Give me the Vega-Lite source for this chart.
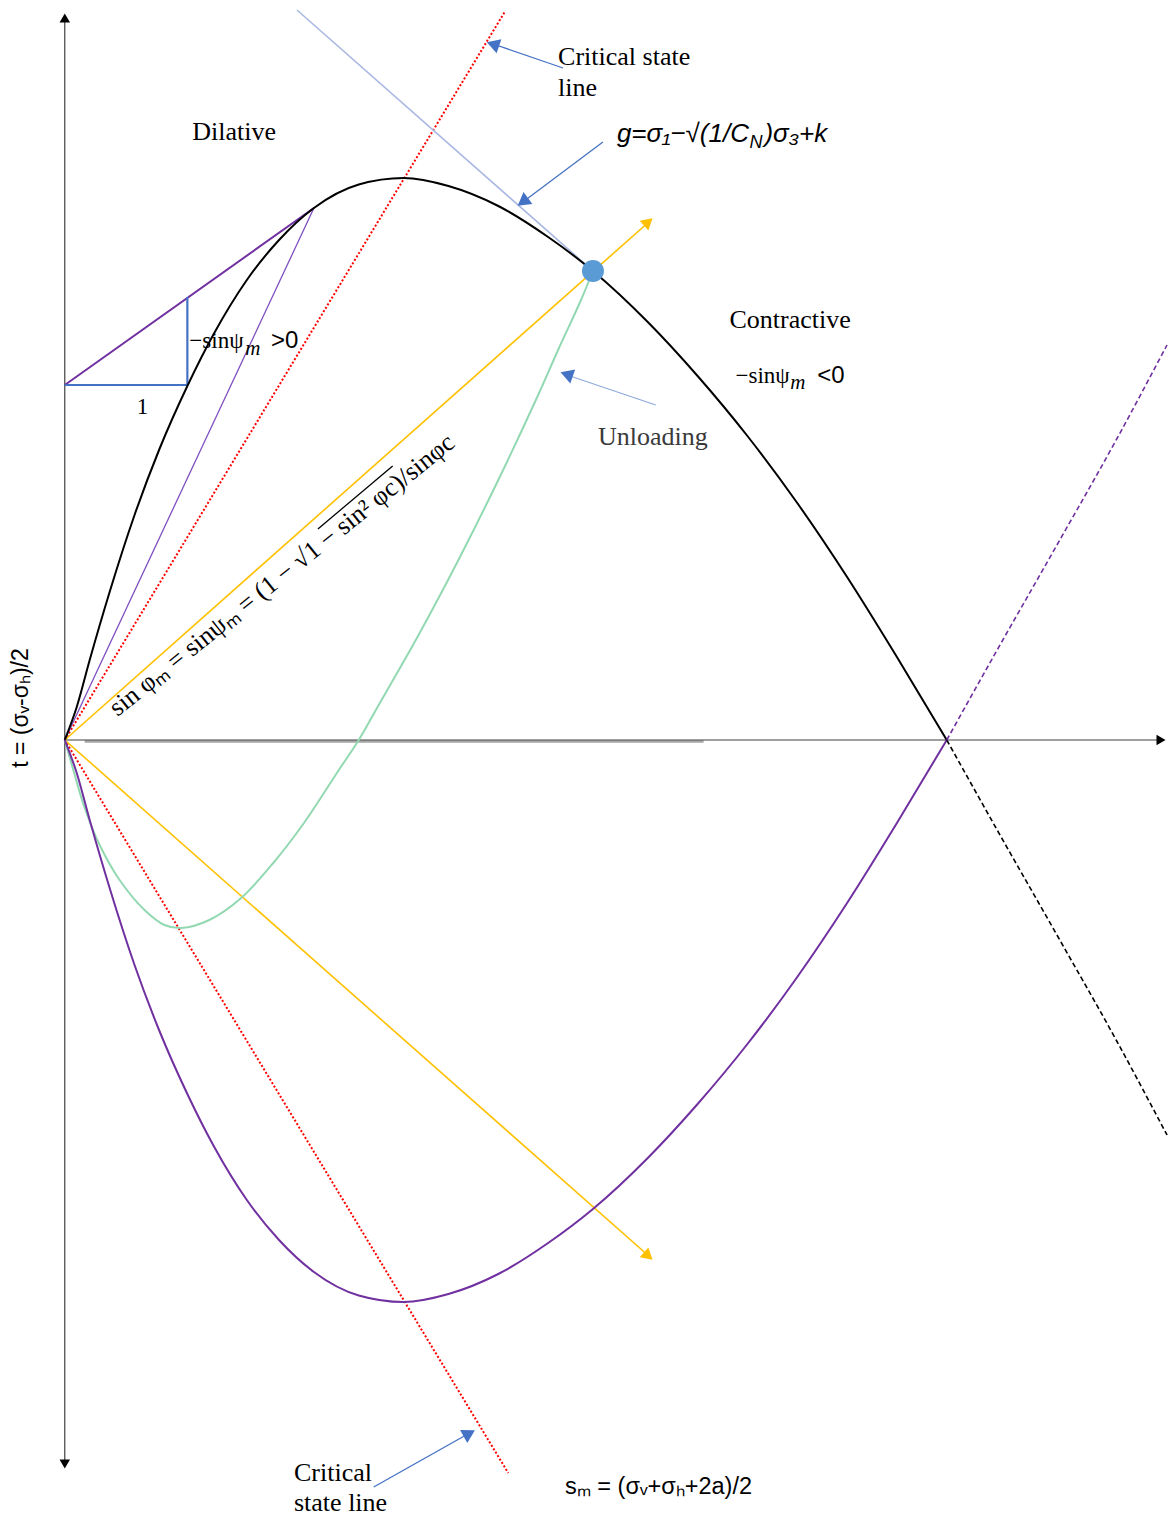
{
  "$schema": "https://vega.github.io/schema/vega-lite/v6.json",
  "width": 1171,
  "height": 1517,
  "autosize": {"type": "fit", "contains": "padding"},
  "padding": 0,
  "background": "white",
  "config": {"view": {"stroke": null}},
  "datasets": {
    "segs": [
      {"k": "vaxis", "x": 0, "y": 722, "x2": 0, "y2": -724},
      {"k": "haxis", "x": 0, "y": 0, "x2": 1100, "y2": 0},
      {"k": "gray", "x": 20, "y": -1.5, "x2": 641, "y2": -1.5},
      {"k": "red", "x": 0, "y": 0, "x2": 442, "y2": 729},
      {"k": "red", "x": 0, "y": 0, "x2": 445, "y2": -733},
      {"k": "yel", "x": 0, "y": 0, "x2": 586, "y2": 518},
      {"k": "yel", "x": 0, "y": 0, "x2": 586, "y2": -516},
      {"k": "purthin", "x": 0, "y": 0, "x2": 250, "y2": 532},
      {"k": "purtan", "x": 0, "y": 355, "x2": 250, "y2": 532},
      {"k": "blue", "x": 0, "y": 355, "x2": 123, "y2": 355},
      {"k": "blue", "x": 123, "y": 355, "x2": 123, "y2": 443},
      {"k": "lav", "x": 233, "y": 730, "x2": 530, "y2": 469},
      {"k": "arr", "x": 500, "y": 672, "x2": 427, "y2": 697},
      {"k": "arr", "x": 540, "y": 598, "x2": 457, "y2": 536},
      {"k": "arrl", "x": 593, "y": 335, "x2": 501, "y2": 366},
      {"k": "arr", "x": 310, "y": -747, "x2": 408, "y2": -692},
      {"k": "over", "x": 254, "y": 211, "x2": 329, "y2": 274}
    ],
    "black": [
      {"i": 0, "x": 0, "y": 0}, {"i": 1, "x": 12, "y": 33}, {"i": 2, "x": 25, "y": 80},
      {"i": 3, "x": 45, "y": 148}, {"i": 4, "x": 70, "y": 225}, {"i": 5, "x": 95, "y": 291},
      {"i": 6, "x": 123, "y": 354}, {"i": 7, "x": 150, "y": 407}, {"i": 8, "x": 182, "y": 459},
      {"i": 9, "x": 215, "y": 500}, {"i": 10, "x": 250, "y": 532}, {"i": 11, "x": 295, "y": 555.5},
      {"i": 12, "x": 340, "y": 562}, {"i": 13, "x": 385, "y": 554}, {"i": 14, "x": 435, "y": 534},
      {"i": 15, "x": 485, "y": 503}, {"i": 16, "x": 530, "y": 469}, {"i": 17, "x": 585, "y": 418},
      {"i": 18, "x": 635, "y": 364}, {"i": 19, "x": 685, "y": 304}, {"i": 20, "x": 735, "y": 237},
      {"i": 21, "x": 785, "y": 163}, {"i": 22, "x": 835, "y": 83}, {"i": 23, "x": 885, "y": 0}
    ],
    "purple": [
      {"i": 0, "x": 0, "y": 0}, {"i": 1, "x": 12, "y": -33}, {"i": 2, "x": 25, "y": -80},
      {"i": 3, "x": 45, "y": -148}, {"i": 4, "x": 70, "y": -225}, {"i": 5, "x": 95, "y": -291},
      {"i": 6, "x": 123, "y": -354}, {"i": 7, "x": 150, "y": -407}, {"i": 8, "x": 182, "y": -459},
      {"i": 9, "x": 215, "y": -500}, {"i": 10, "x": 250, "y": -532}, {"i": 11, "x": 295, "y": -555.5},
      {"i": 12, "x": 340, "y": -562}, {"i": 13, "x": 385, "y": -554}, {"i": 14, "x": 435, "y": -534},
      {"i": 15, "x": 485, "y": -503}, {"i": 16, "x": 530, "y": -469}, {"i": 17, "x": 585, "y": -418},
      {"i": 18, "x": 635, "y": -364}, {"i": 19, "x": 685, "y": -304}, {"i": 20, "x": 735, "y": -237},
      {"i": 21, "x": 785, "y": -163}, {"i": 22, "x": 835, "y": -83}, {"i": 23, "x": 885, "y": 0}
    ],
    "blackdash": [
      {"i": 0, "x": 885, "y": 0}, {"i": 1, "x": 935, "y": -89}, {"i": 2, "x": 995, "y": -194},
      {"i": 3, "x": 1055, "y": -300}, {"i": 4, "x": 1106, "y": -395}
    ],
    "purpledash": [
      {"i": 0, "x": 885, "y": 0}, {"i": 1, "x": 935, "y": 89}, {"i": 2, "x": 995, "y": 194},
      {"i": 3, "x": 1055, "y": 300}, {"i": 4, "x": 1106, "y": 395}
    ],
    "green": [
      {"i": 0, "x": 530, "y": 469}, {"i": 1, "x": 518, "y": 440}, {"i": 2, "x": 495, "y": 390},
      {"i": 3, "x": 475, "y": 345}, {"i": 4, "x": 435, "y": 260}, {"i": 5, "x": 395, "y": 180},
      {"i": 6, "x": 355, "y": 105}, {"i": 7, "x": 315, "y": 35}, {"i": 8, "x": 295, "y": 0},
      {"i": 9, "x": 275, "y": -30}, {"i": 10, "x": 240, "y": -83}, {"i": 11, "x": 210, "y": -122},
      {"i": 12, "x": 177, "y": -158}, {"i": 13, "x": 145, "y": -180}, {"i": 14, "x": 117, "y": -188},
      {"i": 15, "x": 100, "y": -185}, {"i": 16, "x": 80, "y": -170}, {"i": 17, "x": 55, "y": -140},
      {"i": 18, "x": 35, "y": -105}, {"i": 19, "x": 20, "y": -68}, {"i": 20, "x": 10, "y": -35},
      {"i": 21, "x": 0, "y": 0}
    ],
    "heads": [
      {"k": "top", "x": 0, "y": 722}, {"k": "bot", "x": 0, "y": -724}, {"k": "right", "x": 1100, "y": 0},
      {"k": "yu", "x": 585.5, "y": 518}, {"k": "yl", "x": 585.5, "y": -516},
      {"k": "b1", "x": 429.6, "y": 695.8}, {"k": "b2", "x": 459.6, "y": 538.2},
      {"k": "b3", "x": 503.6, "y": 365.7}, {"k": "b4", "x": 405.9, "y": -693.4}
    ],
    "dot": [{"x": 530, "y": 469}],
    "serif": [
      {"x": 128, "y": 608, "t": "Dilative"},
      {"x": 495, "y": 683, "t": "Critical state"},
      {"x": 495, "y": 652, "t": "line"},
      {"x": 667, "y": 420, "t": "Contractive"},
      {"x": 230, "y": -733, "t": "Critical"},
      {"x": 230, "y": -763, "t": "state line"}
    ],
    "unload": [{"x": 535, "y": 303, "t": "Unloading"}],
    "one": [{"x": 78, "y": 333, "t": "1"}],
    "gform": [
      {"x": 554, "y": 598, "t": "g=σ₁−√(1/C"},
      {"x": 702, "y": 598, "t": ")σ₃+k"}
    ],
    "gsub": [{"x": 687, "y": 592, "t": "N"}],
    "sinmain": [
      {"x": 125, "y": 392, "t": "−sinψ"},
      {"x": 673, "y": 357, "t": "−sinψ"}
    ],
    "sinsub": [
      {"x": 181, "y": 385, "t": "m"},
      {"x": 728, "y": 351, "t": "m"}
    ],
    "sinrel": [
      {"x": 207, "y": 392, "t": ">0"},
      {"x": 755, "y": 357, "t": "<0"}
    ],
    "rot": [{"x": 53, "y": 23, "t": "sin φₘ = sinψₘ = (1 − √1 − sin² φc)/sinφc"}],
    "ylab": [{"x": -44, "y": 32, "t": "t = (σᵥ-σₕ)/2"}],
    "xlab": [{"x": 502, "y": -747, "t": "sₘ = (σᵥ+σₕ+2a)/2"}]
  },
  "encoding": {
    "x": {"field": "x", "type": "quantitative", "scale": {"domain": [-65, 1106], "nice": false, "zero": false}, "axis": null},
    "y": {"field": "y", "type": "quantitative", "scale": {"domain": [-777, 740], "nice": false, "zero": false}, "axis": null}
  },
  "layer": [
    {"data": {"name": "segs"}, "transform": [{"filter": "datum.k == 'gray'"}], "mark": {"type": "rule", "color": "#A6A6A6", "strokeWidth": 2.5}, "encoding": {"x2": {"field": "x2"}, "y2": {"field": "y2"}}},
    {"data": {"name": "segs"}, "transform": [{"filter": "datum.k == 'vaxis' || datum.k == 'haxis'"}], "mark": {"type": "rule", "color": "#404040", "strokeWidth": 1.2}, "encoding": {"x2": {"field": "x2"}, "y2": {"field": "y2"}}},
    {"data": {"name": "segs"}, "transform": [{"filter": "datum.k == 'red'"}], "mark": {"type": "rule", "color": "#FF0000", "strokeWidth": 2, "strokeDash": [2, 2]}, "encoding": {"x2": {"field": "x2"}, "y2": {"field": "y2"}}},
    {"data": {"name": "segs"}, "transform": [{"filter": "datum.k == 'yel'"}], "mark": {"type": "rule", "color": "#FFC000", "strokeWidth": 1.6}, "encoding": {"x2": {"field": "x2"}, "y2": {"field": "y2"}}},
    {"data": {"name": "segs"}, "transform": [{"filter": "datum.k == 'purthin'"}], "mark": {"type": "rule", "color": "#7F4FBF", "strokeWidth": 1.3}, "encoding": {"x2": {"field": "x2"}, "y2": {"field": "y2"}}},
    {"data": {"name": "segs"}, "transform": [{"filter": "datum.k == 'purtan'"}], "mark": {"type": "rule", "color": "#7030A0", "strokeWidth": 2}, "encoding": {"x2": {"field": "x2"}, "y2": {"field": "y2"}}},
    {"data": {"name": "segs"}, "transform": [{"filter": "datum.k == 'blue'"}], "mark": {"type": "rule", "color": "#4472C4", "strokeWidth": 2.2}, "encoding": {"x2": {"field": "x2"}, "y2": {"field": "y2"}}},
    {"data": {"name": "segs"}, "transform": [{"filter": "datum.k == 'lav'"}], "mark": {"type": "rule", "color": "#A9B8E2", "strokeWidth": 1.6}, "encoding": {"x2": {"field": "x2"}, "y2": {"field": "y2"}}},
    {"data": {"name": "segs"}, "transform": [{"filter": "datum.k == 'arr'"}], "mark": {"type": "rule", "color": "#4472C4", "strokeWidth": 1.3}, "encoding": {"x2": {"field": "x2"}, "y2": {"field": "y2"}}},
    {"data": {"name": "segs"}, "transform": [{"filter": "datum.k == 'arrl'"}], "mark": {"type": "rule", "color": "#8FAADC", "strokeWidth": 1.3}, "encoding": {"x2": {"field": "x2"}, "y2": {"field": "y2"}}},
    {"data": {"name": "segs"}, "transform": [{"filter": "datum.k == 'over'"}], "mark": {"type": "rule", "color": "#000000", "strokeWidth": 1.3}, "encoding": {"x2": {"field": "x2"}, "y2": {"field": "y2"}}},
    {"data": {"name": "green"}, "mark": {"type": "line", "color": "#92D9B2", "strokeWidth": 2, "interpolate": "catmull-rom"}, "encoding": {"order": {"field": "i", "type": "quantitative"}}},
    {"data": {"name": "black"}, "mark": {"type": "line", "color": "#000000", "strokeWidth": 2, "interpolate": "monotone"}, "encoding": {"order": {"field": "i", "type": "quantitative"}}},
    {"data": {"name": "purple"}, "mark": {"type": "line", "color": "#7030A0", "strokeWidth": 2, "interpolate": "monotone"}, "encoding": {"order": {"field": "i", "type": "quantitative"}}},
    {"data": {"name": "blackdash"}, "mark": {"type": "line", "color": "#000000", "strokeWidth": 1.6, "strokeDash": [5, 3], "interpolate": "monotone"}, "encoding": {"order": {"field": "i", "type": "quantitative"}}},
    {"data": {"name": "purpledash"}, "mark": {"type": "line", "color": "#7030A0", "strokeWidth": 1.6, "strokeDash": [5, 3], "interpolate": "monotone"}, "encoding": {"order": {"field": "i", "type": "quantitative"}}},
    {"data": {"name": "dot"}, "mark": {"type": "point", "shape": "circle", "filled": true, "color": "#5B9BD5", "opacity": 1, "size": 484}},
    {"data": {"name": "heads"}, "transform": [{"filter": "datum.k == 'top'"}], "mark": {"type": "point", "shape": "triangle-up", "filled": true, "color": "#000000", "opacity": 1, "size": 110, "angle": 0}},
    {"data": {"name": "heads"}, "transform": [{"filter": "datum.k == 'bot'"}], "mark": {"type": "point", "shape": "triangle-up", "filled": true, "color": "#000000", "opacity": 1, "size": 110, "angle": 180}},
    {"data": {"name": "heads"}, "transform": [{"filter": "datum.k == 'right'"}], "mark": {"type": "point", "shape": "triangle-up", "filled": true, "color": "#000000", "opacity": 1, "size": 110, "angle": 90}},
    {"data": {"name": "heads"}, "transform": [{"filter": "datum.k == 'yu'"}], "mark": {"type": "point", "shape": "triangle-up", "filled": true, "color": "#FFC000", "opacity": 1, "size": 170, "angle": 48.4}},
    {"data": {"name": "heads"}, "transform": [{"filter": "datum.k == 'yl'"}], "mark": {"type": "point", "shape": "triangle-up", "filled": true, "color": "#FFC000", "opacity": 1, "size": 170, "angle": 131.4}},
    {"data": {"name": "heads"}, "transform": [{"filter": "datum.k == 'b1'"}], "mark": {"type": "point", "shape": "triangle-up", "filled": true, "color": "#4472C4", "opacity": 1, "size": 220, "angle": 288.7}},
    {"data": {"name": "heads"}, "transform": [{"filter": "datum.k == 'b2'"}], "mark": {"type": "point", "shape": "triangle-up", "filled": true, "color": "#4472C4", "opacity": 1, "size": 220, "angle": 233.3}},
    {"data": {"name": "heads"}, "transform": [{"filter": "datum.k == 'b3'"}], "mark": {"type": "point", "shape": "triangle-up", "filled": true, "color": "#4472C4", "opacity": 1, "size": 220, "angle": 289}},
    {"data": {"name": "heads"}, "transform": [{"filter": "datum.k == 'b4'"}], "mark": {"type": "point", "shape": "triangle-up", "filled": true, "color": "#4472C4", "opacity": 1, "size": 220, "angle": 60.8}},
    {"data": {"name": "serif"}, "mark": {"type": "text", "font": "Liberation Serif", "fontSize": 26, "color": "#000000", "align": "left", "baseline": "middle"}, "encoding": {"text": {"field": "t"}}},
    {"data": {"name": "unload"}, "mark": {"type": "text", "font": "Liberation Serif", "fontSize": 26, "color": "#3A3A3A", "align": "left", "baseline": "middle"}, "encoding": {"text": {"field": "t"}}},
    {"data": {"name": "one"}, "mark": {"type": "text", "font": "Liberation Serif", "fontSize": 23, "color": "#000000", "align": "center", "baseline": "middle"}, "encoding": {"text": {"field": "t"}}},
    {"data": {"name": "gform"}, "mark": {"type": "text", "font": "Liberation Sans", "fontStyle": "italic", "fontSize": 26, "color": "#000000", "align": "left", "baseline": "alphabetic"}, "encoding": {"text": {"field": "t"}}},
    {"data": {"name": "gsub"}, "mark": {"type": "text", "font": "Liberation Sans", "fontStyle": "italic", "fontSize": 18, "color": "#000000", "align": "left", "baseline": "alphabetic"}, "encoding": {"text": {"field": "t"}}},
    {"data": {"name": "sinmain"}, "mark": {"type": "text", "font": "Liberation Serif", "fontSize": 23, "color": "#000000", "align": "left", "baseline": "alphabetic"}, "encoding": {"text": {"field": "t"}}},
    {"data": {"name": "sinsub"}, "mark": {"type": "text", "font": "Liberation Serif", "fontStyle": "italic", "fontSize": 21, "color": "#000000", "align": "left", "baseline": "alphabetic"}, "encoding": {"text": {"field": "t"}}},
    {"data": {"name": "sinrel"}, "mark": {"type": "text", "font": "Liberation Sans", "fontSize": 24, "color": "#000000", "align": "left", "baseline": "alphabetic"}, "encoding": {"text": {"field": "t"}}},
    {"data": {"name": "rot"}, "mark": {"type": "text", "font": "Liberation Serif", "fontSize": 26, "color": "#000000", "align": "left", "baseline": "alphabetic", "angle": 321.3}, "encoding": {"text": {"field": "t"}}},
    {"data": {"name": "ylab"}, "mark": {"type": "text", "font": "Liberation Sans", "fontSize": 23, "color": "#000000", "align": "center", "baseline": "middle", "angle": 270}, "encoding": {"text": {"field": "t"}}},
    {"data": {"name": "xlab"}, "mark": {"type": "text", "font": "Liberation Sans", "fontSize": 23.5, "color": "#000000", "align": "left", "baseline": "middle"}, "encoding": {"text": {"field": "t"}}}
  ]
}
